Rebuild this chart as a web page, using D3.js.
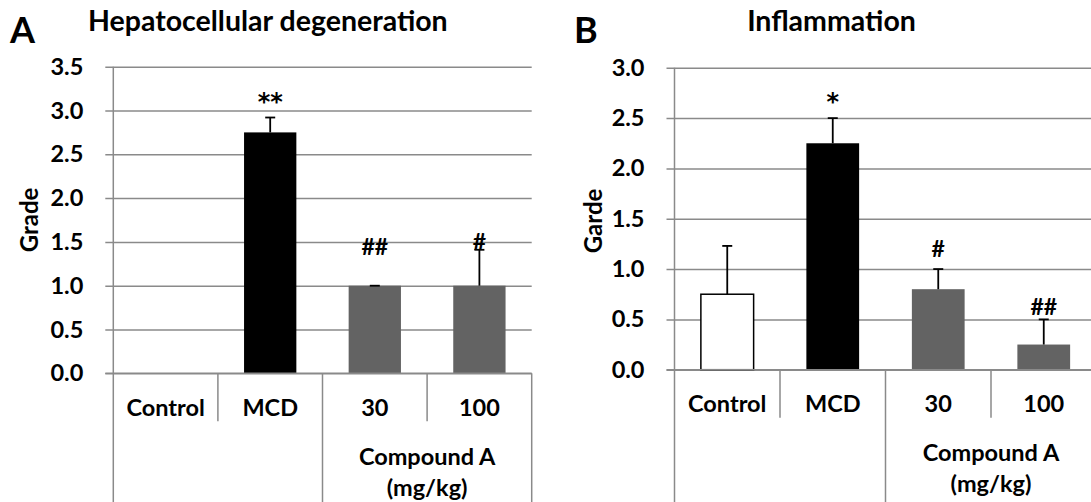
<!DOCTYPE html>
<html>
<head>
<meta charset="utf-8">
<script src="https://cdn.jsdelivr.net/npm/d3@7"></script>
<style>
  html, body { margin: 0; padding: 0; background: #fff; }
  svg { display: block; }
  text { font-weight: 700; fill: #000; }
</style>
</head>
<body>
<svg id="chart" width="1091" height="502"></svg>
<script>
// Treatment groups (shared by both panels)
const groups = ["Control", "MCD", "30", "100"];
const doseUnitLines = ["Compound A", "(mg/kg)"];

// Panel A: hepatocellular degeneration grade (mean and upper error)
const degenMeans = [0, 2.75, 1.0, 1.0];
const degenErrors = [0, 0.17, 0.0, 0.41];
const degenMarks = ["", "**", "##", "#"];
const degenMarkAt = [null, 3.15, 1.44, 1.50];
const degenTicks = [0, 0.5, 1.0, 1.5, 2.0, 2.5, 3.0, 3.5];

// Panel B: inflammation grade (mean and upper error)
const inflamMeans = [0.75, 2.25, 0.8, 0.25];
const inflamErrors = [0.48, 0.25, 0.2, 0.25];
const inflamMarks = ["", "*", "#", "##"];
const inflamMarkAt = [null, 2.70, 1.20, 0.63];
const inflamTicks = [0, 0.5, 1.0, 1.5, 2.0, 2.5, 3.0];

const barFill = ["#ffffff", "#000000", "#636363", "#636363"];

const svg = d3.select("#chart");
svg.append("rect").attr("width", 1091).attr("height", 502).attr("fill", "#fff");

const gridColor = "#8a8a8a";
const mainFont = "Lato, 'Open Sans', sans-serif";
const labelSize = 23.5;

function drawPanel(p) {
  const g = svg.append("g").style("font-family", mainFont);
  const y = d3.scaleLinear().domain([0, p.ticks[p.ticks.length - 1]]).range([p.yBase, p.yTop]);
  const x = d3.scaleBand().domain(groups).range([p.x0, p.x1]);
  const bw = x.bandwidth() * 0.5;
  const right = Math.min(p.x1, 1091);

  // gridlines + tick labels
  const axis = d3.axisLeft(y)
    .tickValues(p.ticks)
    .tickFormat(d3.format(".1f"))
    .tickSize(-(right - p.x0 + 8))
    .tickPadding(22);
  const ag = g.append("g")
    .attr("transform", `translate(${p.x0 - 8},0)`)
    .call(axis);
  ag.select(".domain").remove();
  ag.selectAll(".tick line").attr("stroke", gridColor).attr("stroke-width", 1.5);
  ag.selectAll(".tick text")
    .style("font-family", mainFont)
    .style("font-size", labelSize + "px")
    .style("font-weight", 700)
    .attr("fill", "#000");

  // vertical value axis line, running down through the category table
  g.append("line")
    .attr("x1", p.x0).attr("x2", p.x0)
    .attr("y1", p.yTop).attr("y2", 502)
    .attr("stroke", gridColor).attr("stroke-width", 1.5);

  // table dividers below the plot
  const full = [x("30"), p.x1];
  const short = [x("MCD"), x("100")];
  g.selectAll(".fullDiv").data(full).join("line")
    .attr("x1", d => d).attr("x2", d => d)
    .attr("y1", p.yBase).attr("y2", 502)
    .attr("stroke", gridColor).attr("stroke-width", 1.5);
  g.selectAll(".shortDiv").data(short).join("line")
    .attr("x1", d => d).attr("x2", d => d)
    .attr("y1", p.yBase).attr("y2", p.yBase + 48)
    .attr("stroke", gridColor).attr("stroke-width", 1.5);

  // bars
  const idx = d3.range(groups.length).filter(i => p.means[i] > 0);
  g.selectAll(".bar").data(idx).join("rect")
    .attr("x", i => x(groups[i]) + (x.bandwidth() - bw) / 2)
    .attr("y", i => y(p.means[i]))
    .attr("width", bw)
    .attr("height", i => y(0) - y(p.means[i]))
    .attr("fill", i => barFill[i])
    .attr("stroke", i => barFill[i] === "#ffffff" ? "#000" : "none")
    .attr("stroke-width", 1.5);

  // error bars (upper only)
  const cx = i => x(groups[i]) + x.bandwidth() / 2;
  g.selectAll(".err").data(idx).join("line")
    .attr("x1", cx).attr("x2", cx)
    .attr("y1", i => y(p.means[i]))
    .attr("y2", i => y(p.means[i] + p.errors[i]))
    .attr("stroke", "#000").attr("stroke-width", 1.8);
  g.selectAll(".cap").data(idx).join("line")
    .attr("x1", i => cx(i) - 5).attr("x2", i => cx(i) + 5)
    .attr("y1", i => y(p.means[i] + p.errors[i]))
    .attr("y2", i => y(p.means[i] + p.errors[i]))
    .attr("stroke", "#000").attr("stroke-width", 1.8);

  // significance marks: asterisks in DejaVu (larger star), hashes in Lato
  const star = i => p.marks[i].includes("*");
  const marked = d3.range(groups.length).filter(i => p.marks[i]);
  g.selectAll(".mark").data(marked).join("text")
    .attr("x", cx)
    .attr("y", i => y(p.markAt[i]))
    .attr("dy", i => star(i) ? "0.52em" : "0.36em")
    .attr("text-anchor", "middle")
    .style("font-family", i => star(i) ? "'DejaVu Sans', sans-serif" : mainFont)
    .style("font-size", i => (star(i) ? 24 : 23) + "px")
    .text(i => p.marks[i]);

  // x axis baseline
  g.append("line")
    .attr("x1", p.x0 - 8).attr("x2", right)
    .attr("y1", p.yBase).attr("y2", p.yBase)
    .attr("stroke", gridColor).attr("stroke-width", 1.5);

  // category labels
  g.selectAll(".cat").data(groups).join("text")
    .attr("x", d => x(d) + x.bandwidth() / 2)
    .attr("y", p.yBase + 34)
    .attr("dy", "0.36em")
    .attr("text-anchor", "middle")
    .style("font-size", labelSize + "px")
    .text(d => d);

  const doseCenter = (x("30") + p.x1) / 2;
  g.selectAll(".dose").data(doseUnitLines).join("text")
    .attr("x", doseCenter)
    .attr("y", (d, i) => p.yBase + 83 + i * 31)
    .attr("dy", "0.36em")
    .attr("text-anchor", "middle")
    .style("font-size", labelSize + "px")
    .text(d => d);

  // axis title
  g.append("text")
    .attr("transform", `translate(${p.yLabelX},${p.yLabelY}) rotate(-90)`)
    .attr("text-anchor", "middle")
    .attr("dy", "0.36em")
    .style("font-size", "24px")
    .text(p.yLabel);

  // chart title and panel letter
  g.append("text")
    .attr("x", p.titleX).attr("y", 21)
    .attr("dy", "0.36em")
    .attr("text-anchor", p.titleAnchor)
    .style("font-size", "28.5px")
    .text(p.title);
  g.append("text")
    .attr("x", p.letterX).attr("y", 42.5)
    .style("font-size", "36px")
    .text(p.letter);
}

drawPanel({
  letter: "A", letterX: 10,
  title: "Hepatocellular degeneration", titleX: 88, titleAnchor: "start",
  yLabel: "Grade", yLabelX: 29, yLabelY: 220,
  x0: 113.3, x1: 531.7, yBase: 373.3, yTop: 66.7,
  ticks: degenTicks, means: degenMeans, errors: degenErrors,
  marks: degenMarks, markAt: degenMarkAt
});

drawPanel({
  letter: "B", letterX: 574,
  title: "Inflammation", titleX: 831.5, titleAnchor: "middle",
  yLabel: "Garde", yLabelX: 593, yLabelY: 221,
  x0: 674.5, x1: 1096.5, yBase: 369.7, yTop: 67.8,
  ticks: inflamTicks, means: inflamMeans, errors: inflamErrors,
  marks: inflamMarks, markAt: inflamMarkAt
});
</script>
</body>
</html>
